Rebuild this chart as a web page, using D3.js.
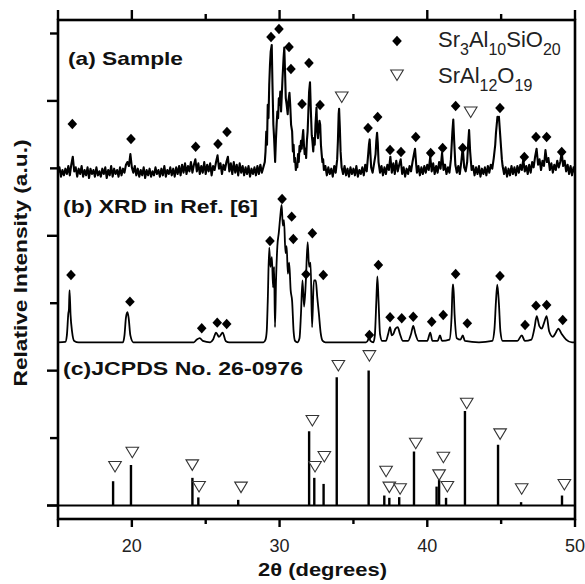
<!DOCTYPE html>
<html><head><meta charset="utf-8">
<script src="https://cdn.jsdelivr.net/npm/d3@7"></script>
<style>html,body{margin:0;padding:0;background:#fff;} svg{display:block;}</style>
</head><body><svg id="c" width="585" height="584"></svg>
<script>
// ---------------- DATA ----------------
const xTickLabels = [20, 30, 40, 50];
const xMajorTicks = [15, 20, 30, 40, 50];
const xMinorTicks = [25, 35, 45];
const yMajorTicks = [0, 2, 4, 6];
const yMinorTicks = [1, 3, 5, 7];

// (a) Sample: [2theta, relative intensity 0-100]
const traceA = [
[15.0,4],[15.1,8],[15.2,1],[15.3,6],[15.4,2],[15.5,7],[15.6,3],[15.7,9],[15.8,2],[15.9,10],[16.0,16],[16.1,5],[16.2,8],[16.3,1],[16.4,7],[16.5,3],[16.6,9],[16.7,1],[16.8,6],[16.9,2],
[17.0,8],[17.1,0],[17.2,7],[17.3,3],[17.4,6],[17.5,1],[17.6,8],[17.7,2],[17.8,5],[17.9,1],[18.0,7],[18.1,3],[18.2,8],[18.3,0],[18.4,6],[18.5,2],[18.6,9],[18.7,1],[18.8,7],[18.9,3],
[19.0,6],[19.1,1],[19.2,8],[19.3,2],[19.4,7],[19.5,4],[19.6,10],[19.7,12],[19.8,9],[19.9,18],[20.0,8],[20.1,4],[20.2,9],[20.3,2],[20.4,7],[20.5,1],[20.6,6],[20.7,2],[20.8,8],[20.9,0],
[21.0,6],[21.1,2],[21.2,7],[21.3,1],[21.4,5],[21.5,2],[21.6,8],[21.7,3],[21.8,6],[21.9,1],[22.0,7],[22.1,2],[22.2,9],[22.3,1],[22.4,6],[22.5,3],[22.6,8],[22.7,2],[22.8,7],[22.9,1],
[23.0,8],[23.1,3],[23.2,9],[23.3,2],[23.4,10],[23.5,4],[23.6,11],[23.7,3],[23.8,9],[23.9,5],[24.0,12],[24.1,4],[24.2,10],[24.3,14],[24.4,5],[24.5,11],[24.6,3],[24.7,9],[24.8,4],[24.9,12],
[25.0,3],[25.1,10],[25.2,5],[25.3,11],[25.4,2],[25.5,9],[25.6,6],[25.7,12],[25.8,17],[25.9,7],[26.0,11],[26.1,3],[26.2,10],[26.3,6],[26.4,12],[26.5,16],[26.6,5],[26.7,11],[26.8,3],[26.9,12],
[27.0,4],[27.1,10],[27.2,2],[27.3,11],[27.4,4],[27.5,9],[27.6,2],[27.7,8],[27.8,3],[27.9,9],[28.0,1],[28.1,7],[28.2,3],[28.3,8],[28.4,2],[28.5,9],[28.6,3],[28.7,10],[28.8,4],[28.9,8],[29.0,12],
[29.05,20],[29.1,35],[29.15,25],[29.2,55],[29.25,45],[29.3,70],[29.35,85],[29.4,95],[29.47,100],[29.52,70],[29.58,40],[29.63,30],[29.7,12],[29.75,28],[29.8,40],[29.85,50],[29.9,45],[29.95,60],
[30.0,55],[30.05,65],[30.1,50],[30.15,62],[30.2,75],[30.27,90],[30.32,98],[30.37,80],[30.42,60],[30.48,55],[30.55,48],[30.6,58],[30.67,64],[30.72,55],[30.78,40],[30.85,35],[30.9,20],[30.95,25],
[31.0,12],[31.05,15],[31.1,6],[31.15,10],[31.2,8],[31.25,18],[31.3,12],[31.35,24],[31.4,20],[31.45,28],[31.5,22],[31.55,30],[31.6,36],[31.65,25],[31.7,18],[31.75,22],[31.8,15],[31.85,28],[31.9,35],[31.95,50],
[32.0,65],[32.06,72],[32.12,50],[32.18,32],[32.22,28],[32.28,20],[32.33,30],[32.38,25],[32.43,40],[32.5,53],[32.55,35],[32.6,30],[32.65,38],[32.7,43],[32.75,40],[32.8,25],[32.85,18],[32.9,12],[32.95,14],[33.0,6],
[33.1,9],[33.2,2],[33.3,8],[33.4,3],[33.5,7],[33.6,1],[33.7,9],[33.8,4],[33.9,14],[33.95,28],[34.0,48],[34.03,52],[34.08,38],[34.13,20],[34.2,8],[34.3,3],[34.4,9],[34.5,2],[34.6,7],[34.7,1],[34.8,8],[34.9,3],
[35.0,7],[35.1,2],[35.2,9],[35.3,1],[35.4,6],[35.5,3],[35.6,8],[35.7,2],[35.8,10],[35.9,5],[36.0,18],[36.05,25],[36.1,29],[36.15,18],[36.2,8],[36.3,4],[36.4,11],[36.5,18],[36.55,28],[36.6,34],[36.65,26],[36.7,12],[36.8,4],[36.9,9],
[37.0,2],[37.1,8],[37.2,3],[37.3,10],[37.4,6],[37.5,16],[37.6,4],[37.7,11],[37.8,3],[37.9,13],[38.0,5],[38.1,10],[38.2,14],[38.3,3],[38.4,8],[38.5,1],[38.6,7],[38.7,3],[38.8,9],[38.9,5],
[39.0,12],[39.1,18],[39.17,22],[39.25,10],[39.3,4],[39.4,9],[39.5,2],[39.6,8],[39.7,3],[39.8,9],[39.9,4],[40.0,10],[40.1,6],[40.2,16],[40.3,5],[40.4,11],[40.5,3],[40.6,9],[40.7,4],[40.8,12],[40.9,7],
[41.0,19],[41.1,6],[41.2,10],[41.3,3],[41.4,8],[41.5,4],[41.6,14],[41.7,35],[41.76,44],[41.82,28],[41.9,10],[42.0,4],[42.1,9],[42.2,3],[42.3,12],[42.4,23],[42.5,8],[42.6,5],[42.7,12],[42.78,28],[42.83,36],[42.9,20],
[43.0,6],[43.1,9],[43.2,2],[43.3,8],[43.4,3],[43.5,9],[43.6,1],[43.7,7],[43.8,3],[43.9,8],[44.0,2],[44.1,9],[44.2,4],[44.3,10],[44.4,7],[44.5,15],[44.6,25],[44.65,34],[44.7,40],[44.75,46],[44.8,44],[44.85,46],[44.9,38],[44.95,30],
[45.0,22],[45.05,14],[45.1,9],[45.2,3],[45.3,8],[45.4,1],[45.5,7],[45.6,2],[45.7,9],[45.8,3],[45.9,8],[46.0,2],[46.1,9],[46.2,4],[46.3,10],[46.4,6],[46.5,14],[46.6,5],[46.7,9],[46.8,3],[46.9,10],
[47.0,4],[47.1,12],[47.2,8],[47.3,16],[47.4,22],[47.5,10],[47.6,14],[47.7,6],[47.8,13],[47.9,9],[48.0,21],[48.1,12],[48.2,15],[48.3,6],[48.4,11],[48.5,4],[48.6,10],[48.7,6],[48.8,13],[48.9,8],
[49.0,12],[49.1,19],[49.2,9],[49.3,13],[49.4,5],[49.5,10],[49.6,3],[49.7,9],[49.8,2],[49.9,8],[50.0,4]
];

// (b) XRD in Ref. [6]: [2theta, relative intensity 0-100]
const traceB = [
[15.0,0],[15.5,0.3],[15.6,5],[15.7,21],[15.74,24],[15.78,38],[15.85,20],[15.95,8],[16.1,1],[16.4,0],
[19.4,0],[19.5,5],[19.6,18],[19.7,22],[19.78,18],[19.9,5],[20.1,0],
[24.2,0],[24.4,2],[24.6,3],[24.8,1],[25.3,0],[25.5,2],[25.7,7],[25.9,4],[26.15,7],[26.35,1],[26.6,0],
[28.9,0],[29.05,2],[29.13,8],[29.2,30],[29.3,69],[29.38,55],[29.48,62],[29.56,40],[29.63,55],[29.69,11],[29.76,45],[29.85,70],[29.95,80],[30.05,92],[30.14,100],[30.22,85],[30.3,89],[30.4,65],[30.48,70],[30.56,50],[30.65,58],[30.75,38],[30.85,30],[30.95,8],[31.05,1],[31.2,0],
[31.35,3],[31.45,21],[31.55,45],[31.66,26],[31.78,45],[31.9,73],[32.0,55],[32.1,58],[32.2,11],[32.32,45],[32.45,45],[32.55,33],[32.66,21],[32.78,7],[32.92,1],[33.1,0],
[35.85,0],[36.0,2],[36.06,4],[36.15,1],[36.35,0],[36.45,5],[36.55,30],[36.62,48],[36.7,30],[36.8,6],[36.95,1],
[37.2,1],[37.35,6],[37.48,11],[37.6,5],[37.7,6],[37.85,10],[38.0,11],[38.15,6],[38.35,1],[38.7,1],[38.9,6],[39.05,12],[39.2,6],[39.4,1],
[40.0,1],[40.2,7],[40.35,1],[40.7,1],[40.86,5],[41.0,1],[41.5,2],[41.65,20],[41.72,42],[41.76,42],[41.85,20],[42.0,3],[42.25,2],[42.4,5],[42.55,1],[43.5,0],
[44.4,1],[44.55,10],[44.65,30],[44.74,42],[44.85,28],[44.95,8],[45.1,1],[46.1,1],[46.4,5],[46.6,1],
[47.05,2],[47.25,10],[47.41,19],[47.58,12],[47.75,10],[47.9,14],[48.08,19],[48.25,8],[48.5,4],[48.7,7],[48.87,10],[49.1,6],[49.4,2],[49.8,0],[50.0,0]
];

// (c) JCPDS No. 26-0976 stick pattern
const sticksPos = [18.73,19.94,24.1,24.5,27.2,32.0,32.35,32.98,33.87,36.03,37.09,37.43,38.1,39.1,40.63,40.8,41.27,42.55,44.79,46.35,49.12];
const sticksInt = [18,30,20.5,6,4.2,55,20.5,16,95,100,7.4,5.7,6.2,40,14,19,5.7,70,45,2.5,7.4];

// Phase markers: [2theta, height in panel intensity units]
const diamondsA = [[15.97,40.6],[19.94,29.3],[24.32,23.5],[25.83,25.6],[26.44,34.6],[29.42,106],[29.96,112],[30.64,98.5],[30.77,82],[31.52,55.6],[31.99,86.5],[32.74,54.9],[35.99,37.6],[36.64,45.9],[37.48,21],[38.22,19.5],[39.22,30.8],[40.23,18.8],[41.04,22.6],[41.92,54.1],[42.4,22.6],[44.92,52.6],[46.57,15.8],[47.36,30.8],[48.08,30.8],[49.1,19.5]];
const trianglesA = [[34.21,60.9],[42.94,49.6]];
const diamondsB = [[15.88,49],[19.87,29.6],[24.73,10.2],[25.78,14.3],[26.42,13.3],[29.35,73.8],[30.17,104.4],[30.82,91.5],[30.93,75.2],[31.79,49.5],[32.22,79.4],[32.96,49],[36.08,5.3],[36.69,56.3],[37.48,18.2],[38.27,17.5],[39.05,18.6],[40.3,15],[41.08,19.9],[41.92,49.7],[42.71,13.8],[44.92,48.3],[46.62,12.6],[47.36,26.7],[48.08,27.2],[49.17,16.2]];
const trianglesC = [[18.86,28.9],[20.03,39.5],[24.09,30.1],[24.55,14.1],[27.39,13.6],[32.22,63],[32.4,28.9],[33.03,36.3],[33.98,103.7],[36.08,111],[37.21,25.4],[37.43,13.6],[38.16,12.4],[39.22,46.1],[40.8,22.7],[41.09,35.8],[41.36,14.1],[42.67,75.8],[44.93,53.1],[46.39,12.4],[49.28,15.6]];

const panelLabels = ["(a) Sample", "(b) XRD in Ref. [6]", "(c)JCPDS No. 26-0976"];

// ---------------- LAYOUT ----------------
const FONT = "'Liberation Sans', Arial, Helvetica, sans-serif";
const L = 58, R = 575, T = 20, B = 519;
const svg = d3.select("#c");
const x = d3.scaleLinear().domain([15, 50]).range([L, R]);
const y = d3.scaleLinear().domain([-0.2, 7.2]).range([B, T]);
const panelOpt = { a: {base: 4.857, span: 1.972}, b: {base: 2.4205, span: 2.036}, c: {base: 0, span: 2.002} };
const pScale = p => d3.scaleLinear().domain([0, 100]).range([y(p.base), y(p.base + p.span)]);
const yA = pScale(panelOpt.a), yB = pScale(panelOpt.b), yC = pScale(panelOpt.c);

svg.append("defs").append("clipPath").attr("id", "clip")
  .append("rect").attr("x", L).attr("y", T).attr("width", R - L).attr("height", B - T);

const plot = svg.append("g").attr("clip-path", "url(#clip)");

// traces
plot.append("path").datum(traceA)
  .attr("d", d3.line().x(d => x(d[0])).y(d => yA(d[1])))
  .attr("fill", "none").attr("stroke", "#000").attr("stroke-width", 2.1).attr("stroke-linejoin", "round");
plot.append("path").datum(traceB)
  .attr("d", d3.line().x(d => x(d[0])).y(d => yB(d[1])).curve(d3.curveMonotoneX))
  .attr("fill", "none").attr("stroke", "#000").attr("stroke-width", 1.8);

// baseline of stick pattern
svg.append("line").attr("x1", L - 11).attr("x2", R).attr("y1", yC(0)).attr("y2", yC(0))
  .attr("stroke", "#000").attr("stroke-width", 2);
// sticks
plot.selectAll(".stick").data(sticksPos).join("line")
  .attr("x1", d => x(d)).attr("x2", d => x(d))
  .attr("y1", yC(0)).attr("y2", (d, i) => yC(sticksInt[i]))
  .attr("stroke", "#000").attr("stroke-width", 2.4);

// markers
const diamondPath = "M0,-5.2L4.8,0L0,5.2L-4.8,0Z";
const triPath = "M-6.3,-5L6.3,-5L0,5.5Z";
function diamonds(data, ys) {
  svg.append("g").selectAll("path").data(data).join("path")
    .attr("d", diamondPath).attr("fill", "#000")
    .attr("transform", d => `translate(${x(d[0])},${ys(d[1])})`);
}
function triangles(data, ys) {
  svg.append("g").selectAll("path").data(data).join("path")
    .attr("d", triPath).attr("fill", "#fff").attr("stroke", "#333").attr("stroke-width", 1.1)
    .attr("transform", d => `translate(${x(d[0])},${ys(d[1])})`);
}
diamonds(diamondsA, yA);
triangles(trianglesA, yA);
diamonds(diamondsB, yB);
triangles(trianglesC, yC);

// frame
svg.append("rect").attr("x", L).attr("y", T).attr("width", R - L).attr("height", B - T)
  .attr("fill", "none").attr("stroke", "#000").attr("stroke-width", 2.6);

// ticks
const tk = svg.append("g").attr("stroke", "#000").attr("stroke-width", 2.4);
tk.selectAll(".bM").data(xMajorTicks).join("line").attr("x1", d => x(d)).attr("x2", d => x(d)).attr("y1", B).attr("y2", B + 8);
tk.selectAll(".bm").data(xMinorTicks).join("line").attr("x1", d => x(d)).attr("x2", d => x(d)).attr("y1", B).attr("y2", B + 5);
tk.selectAll(".tM").data(xMajorTicks).join("line").attr("x1", d => x(d)).attr("x2", d => x(d)).attr("y1", T).attr("y2", T - 10);
tk.selectAll(".tm").data(xMinorTicks).join("line").attr("x1", d => x(d)).attr("x2", d => x(d)).attr("y1", T).attr("y2", T - 6);
tk.selectAll(".lM").data(yMajorTicks).join("line").attr("y1", d => y(d)).attr("y2", d => y(d)).attr("x1", L).attr("x2", L - 11);
tk.selectAll(".lm").data(yMinorTicks).join("line").attr("y1", d => y(d)).attr("y2", d => y(d)).attr("x1", L).attr("x2", L - 8);

// tick labels
svg.append("g").selectAll("text").data(xTickLabels).join("text")
  .attr("x", d => x(d)).attr("y", 552).attr("text-anchor", "middle")
  .attr("font-family", FONT).attr("font-size", 18).attr("fill", "#222").text(d => d);

// axis titles
svg.append("text").attr("x", 258).attr("y", 576)
  .attr("font-family", FONT).attr("font-size", 19).attr("font-weight", "bold").attr("fill", "#111")
  .attr("textLength", 129).attr("lengthAdjust", "spacingAndGlyphs")
  .text("2θ (degrees)");
svg.append("text").attr("transform", "translate(27,263) rotate(-90)").attr("text-anchor", "middle")
  .attr("font-family", FONT).attr("font-size", 18).attr("font-weight", "bold").attr("fill", "#111")
  .attr("textLength", 247).attr("lengthAdjust", "spacingAndGlyphs")
  .text("Relative Intensity (a.u.)");

// panel labels
const labelPos = [[68, 65, 115], [63, 213, 195], [63, 375, 240]];
svg.append("g").selectAll("text").data(panelLabels).join("text")
  .attr("x", (d, i) => labelPos[i][0]).attr("y", (d, i) => labelPos[i][1])
  .attr("textLength", (d, i) => labelPos[i][2]).attr("lengthAdjust", "spacingAndGlyphs")
  .attr("font-family", FONT).attr("font-size", 19).attr("font-weight", "bold").attr("fill", "#111")
  .text(d => d);

// legend
const lg = svg.append("g");
lg.append("path").attr("d", diamondPath).attr("fill", "#000").attr("transform", "translate(397,41)");
lg.append("path").attr("d", triPath).attr("fill", "#fff").attr("stroke", "#333").attr("stroke-width", 1.1).attr("transform", "translate(397,75)");
function chem(parts, xx, yy) {
  const t = lg.append("text").attr("x", xx).attr("y", yy).attr("font-family", FONT).attr("font-size", 22).attr("fill", "#222");
  parts.forEach(p => {
    const s = t.append("tspan").text(p[0]);
    if (p[1]) s.attr("font-size", 16).attr("baseline-shift", "-8px");
  });
}
chem([["Sr"],["3",1],["Al"],["10",1],["SiO"],["20",1]], 438, 47);
chem([["SrAl"],["12",1],["O"],["19",1]], 438, 83);
</script></body></html>
